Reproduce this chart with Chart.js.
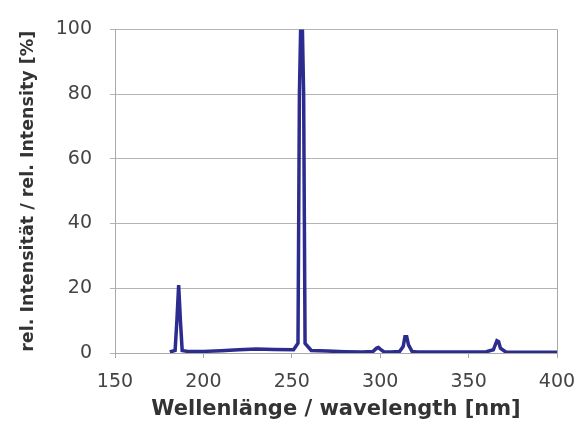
<!DOCTYPE html>
<html>
<head>
<meta charset="utf-8">
<script src="https://cdn.jsdelivr.net/npm/chart.js@4/dist/chart.umd.min.js"></script>
<style>
  html, body { margin: 0; padding: 0; background: #fff; }
  #wrap { width: 581px; height: 427px; }
</style>
</head>
<body>
<div id="wrap"><canvas id="c"></canvas></div>
<script>
// spectrum: wavelength [nm] vs rel. intensity [%]
const wavelengths = [181, 184, 185, 186, 187, 188, 191, 200, 210, 220, 230, 240, 251, 253.5, 254.3, 255, 256, 256.7, 257.5, 261,
  270, 280, 290, 296, 298, 299, 300, 302, 306, 311, 313, 314, 315, 316, 318, 321, 330, 340, 350, 360,
  364, 366, 367, 368, 371, 380, 390, 400];
const intensity = [0.3, 0.8, 10, 21, 10, 0.8, 0.5, 0.5, 0.7, 1.0, 1.2, 1.1, 1.0, 3, 80, 100, 100, 80, 3, 0.8,
  0.6, 0.4, 0.3, 0.5, 1.5, 1.7, 1.2, 0.4, 0.3, 0.5, 2, 5, 5, 2.5, 0.5, 0.3, 0.3, 0.3, 0.3, 0.4,
  1, 3.8, 3.5, 1.5, 0.3, 0.2, 0.2, 0.2];
const xTicks = [150, 200, 250, 300, 350, 400];
const yTicks = [0, 20, 40, 60, 80, 100];

const points = wavelengths.map((w, i) => ({ x: w, y: intensity[i] }));

// right-hand frame line of the plot box
const frameRight = {
  id: "frameRight",
  afterDraw(chart) {
    const a = chart.chartArea, ctx = chart.ctx;
    ctx.save();
    ctx.strokeStyle = "#a8a8a8";
    ctx.lineWidth = 1;
    ctx.beginPath();
    ctx.moveTo(a.right + 0.5, a.top);
    ctx.lineTo(a.right + 0.5, a.bottom);
    ctx.stroke();
    ctx.restore();
  },
};

new Chart(document.getElementById("c"), {
  type: "scatter",
  data: {
    datasets: [{
      data: points,
      showLine: true,
      borderColor: "#2c2c8e",
      borderWidth: 3.5,
      pointRadius: 0,
      tension: 0,
    }],
  },
  options: {
    responsive: true,
    maintainAspectRatio: false,
    animation: false,
    layout: { padding: { left: 18, top: 25, right: 24, bottom: 0 } },
    plugins: { legend: { display: false }, tooltip: { enabled: false } },
    scales: {
      x: {
        type: "linear",
        min: 150,
        max: 400,
        afterBuildTicks: s => { s.ticks = xTicks.map(v => ({ value: v })); },
        afterFit: s => { s.height = 74; s.paddingRight = 0; s.paddingLeft = 0; },
        ticks: { color: "#444", font: { family: "DejaVu Sans", size: 19 }, padding: 13, maxRotation: 0 },
        grid: { drawOnChartArea: false, tickLength: 5, color: "#a8a8a8" },
        border: { color: "#a8a8a8" },
        title: {
          display: true,
          text: "Wellenlänge / wavelength [nm]",
          color: "#333",
          font: { family: "DejaVu Sans", size: 21, weight: "bold" },
          padding: { top: 0, bottom: 5 },
        },
      },
      y: {
        min: 0,
        max: 100,
        afterBuildTicks: s => { s.ticks = yTicks.map(v => ({ value: v })); },
        afterFit: s => { s.width = 97; },
        ticks: { color: "#444", font: { family: "DejaVu Sans", size: 19 }, padding: 18 },
        grid: { tickLength: 5, color: "#b4b4b4" },
        border: { color: "#a8a8a8" },
        title: {
          display: true,
          text: "rel. Intensität / rel. Intensity [%]",
          color: "#333",
          font: { family: "DejaVu Sans", size: 17.5, weight: "bold" },
          padding: { top: 0, bottom: 0 },
        },
      },
    },
  },
  plugins: [frameRight],
});
</script>
</body>
</html>
